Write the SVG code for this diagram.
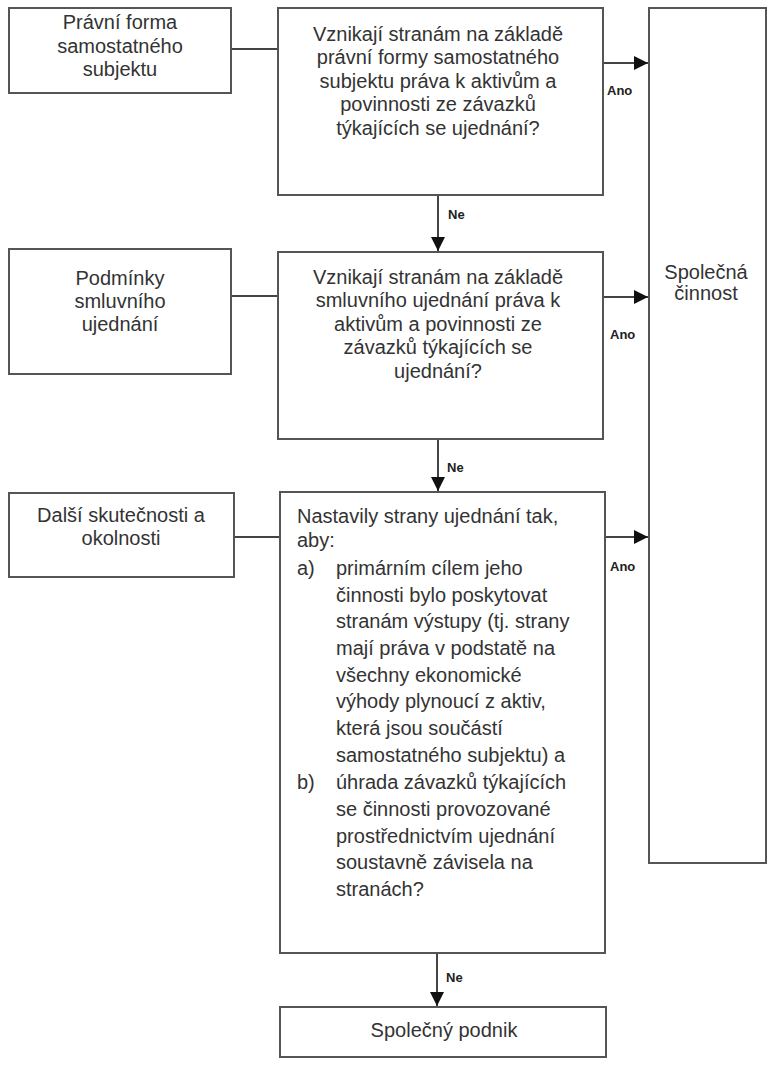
<svg xmlns="http://www.w3.org/2000/svg" width="774" height="1066" viewBox="0 0 774 1066">
<style>
.box{fill:#fff;stroke:#555;stroke-width:2}
.t{font-family:"Liberation Sans",Arial,sans-serif;font-size:20px;fill:#333}
.c{text-anchor:middle}
.lbl{font-family:"Liberation Sans",Arial,sans-serif;font-size:13px;font-weight:bold;fill:#222}
.ln{stroke:#444;stroke-width:2;fill:none}
</style>
<defs>
<marker id="ah" viewBox="0 0 10 10" refX="10" refY="5" markerWidth="14" markerHeight="14" markerUnits="userSpaceOnUse" orient="auto">
<path d="M0,0 L10,5 L0,10 Z" fill="#111"/>
</marker>
</defs>
<rect width="774" height="1066" fill="#fff"/>
<g id="connectors">
<line class="ln" x1="231" y1="49" x2="278" y2="49"/>
<line class="ln" x1="231" y1="296" x2="278" y2="296"/>
<line class="ln" x1="234" y1="537" x2="280" y2="537"/>
<line class="ln" x1="603" y1="63" x2="648" y2="63" marker-end="url(#ah)"/>
<line class="ln" x1="603" y1="297" x2="648" y2="297" marker-end="url(#ah)"/>
<line class="ln" x1="605" y1="537" x2="648" y2="537" marker-end="url(#ah)"/>
<line class="ln" x1="438" y1="195" x2="438" y2="251" marker-end="url(#ah)"/>
<line class="ln" x1="438" y1="439" x2="438" y2="491" marker-end="url(#ah)"/>
<line class="ln" x1="437" y1="953" x2="437" y2="1006" marker-end="url(#ah)"/>
<text class="lbl" x="607" y="95">Ano</text>
<text class="lbl" x="610" y="339">Ano</text>
<text class="lbl" x="610" y="571">Ano</text>
<text class="lbl" x="448" y="219">Ne</text>
<text class="lbl" x="447" y="472">Ne</text>
<text class="lbl" x="446" y="982">Ne</text>
</g>
<g id="pravni-forma">
<rect class="box" x="9" y="8" width="222" height="85"/>
<text class="t c" x="120" y="29">Právní forma</text>
<text class="t c" x="120" y="53">samostatného</text>
<text class="t c" x="120" y="76">subjektu</text>
</g>
<g id="otazka1">
<rect class="box" x="278" y="8" width="325" height="187"/>
<text class="t c" x="438" y="41">Vznikají stranám na základě</text>
<text class="t c" x="438" y="64">právní formy samostatného</text>
<text class="t c" x="438" y="88">subjektu práva k aktivům a</text>
<text class="t c" x="438" y="111">povinnosti ze závazků</text>
<text class="t c" x="438" y="135">týkajících se ujednání?</text>
</g>
<g id="spolecna-cinnost">
<rect class="box" x="649" y="8" width="117" height="855"/>
<text class="t c" x="706" y="279">Společná</text>
<text class="t c" x="706" y="300">činnost</text>
</g>
<g id="podminky">
<rect class="box" x="9" y="249" width="222" height="125"/>
<text class="t c" x="120" y="285">Podmínky</text>
<text class="t c" x="120" y="308">smluvního</text>
<text class="t c" x="120" y="331">ujednání</text>
</g>
<g id="otazka2">
<rect class="box" x="278" y="252" width="325" height="187"/>
<text class="t c" x="438" y="284">Vznikají stranám na základě</text>
<text class="t c" x="438" y="307">smluvního ujednání práva k</text>
<text class="t c" x="438" y="331">aktivům a povinnosti ze</text>
<text class="t c" x="438" y="354">závazků týkajících se</text>
<text class="t c" x="438" y="378">ujednání?</text>
</g>
<g id="dalsi">
<rect class="box" x="9" y="493" width="225" height="84"/>
<text class="t c" x="121" y="522">Další skutečnosti a</text>
<text class="t c" x="121" y="545">okolnosti</text>
</g>
<g id="otazka3">
<rect class="box" x="280" y="492" width="325" height="461"/>
<text class="t" x="297" y="523">Nastavily strany ujednání tak,</text>
<text class="t" x="297" y="547">aby:</text>
<text class="t" x="297" y="575">a)</text>
<text class="t" x="336" y="575">primárním cílem jeho</text>
<text class="t" x="336" y="602">činnosti bylo poskytovat</text>
<text class="t" x="336" y="628">stranám výstupy (tj. strany</text>
<text class="t" x="336" y="655">mají práva v podstatě na</text>
<text class="t" x="336" y="682">všechny ekonomické</text>
<text class="t" x="336" y="708">výhody plynoucí z aktiv,</text>
<text class="t" x="336" y="735">která jsou součástí</text>
<text class="t" x="336" y="762">samostatného subjektu) a</text>
<text class="t" x="297" y="789">b)</text>
<text class="t" x="336" y="789">úhrada závazků týkajících</text>
<text class="t" x="336" y="816">se činnosti provozované</text>
<text class="t" x="336" y="843">prostřednictvím ujednání</text>
<text class="t" x="336" y="869">soustavně závisela na</text>
<text class="t" x="336" y="896">stranách?</text>
</g>
<g id="spolecny-podnik">
<rect class="box" x="280" y="1007" width="326" height="50"/>
<text class="t c" x="444" y="1037">Společný podnik</text>
</g>
</svg>
